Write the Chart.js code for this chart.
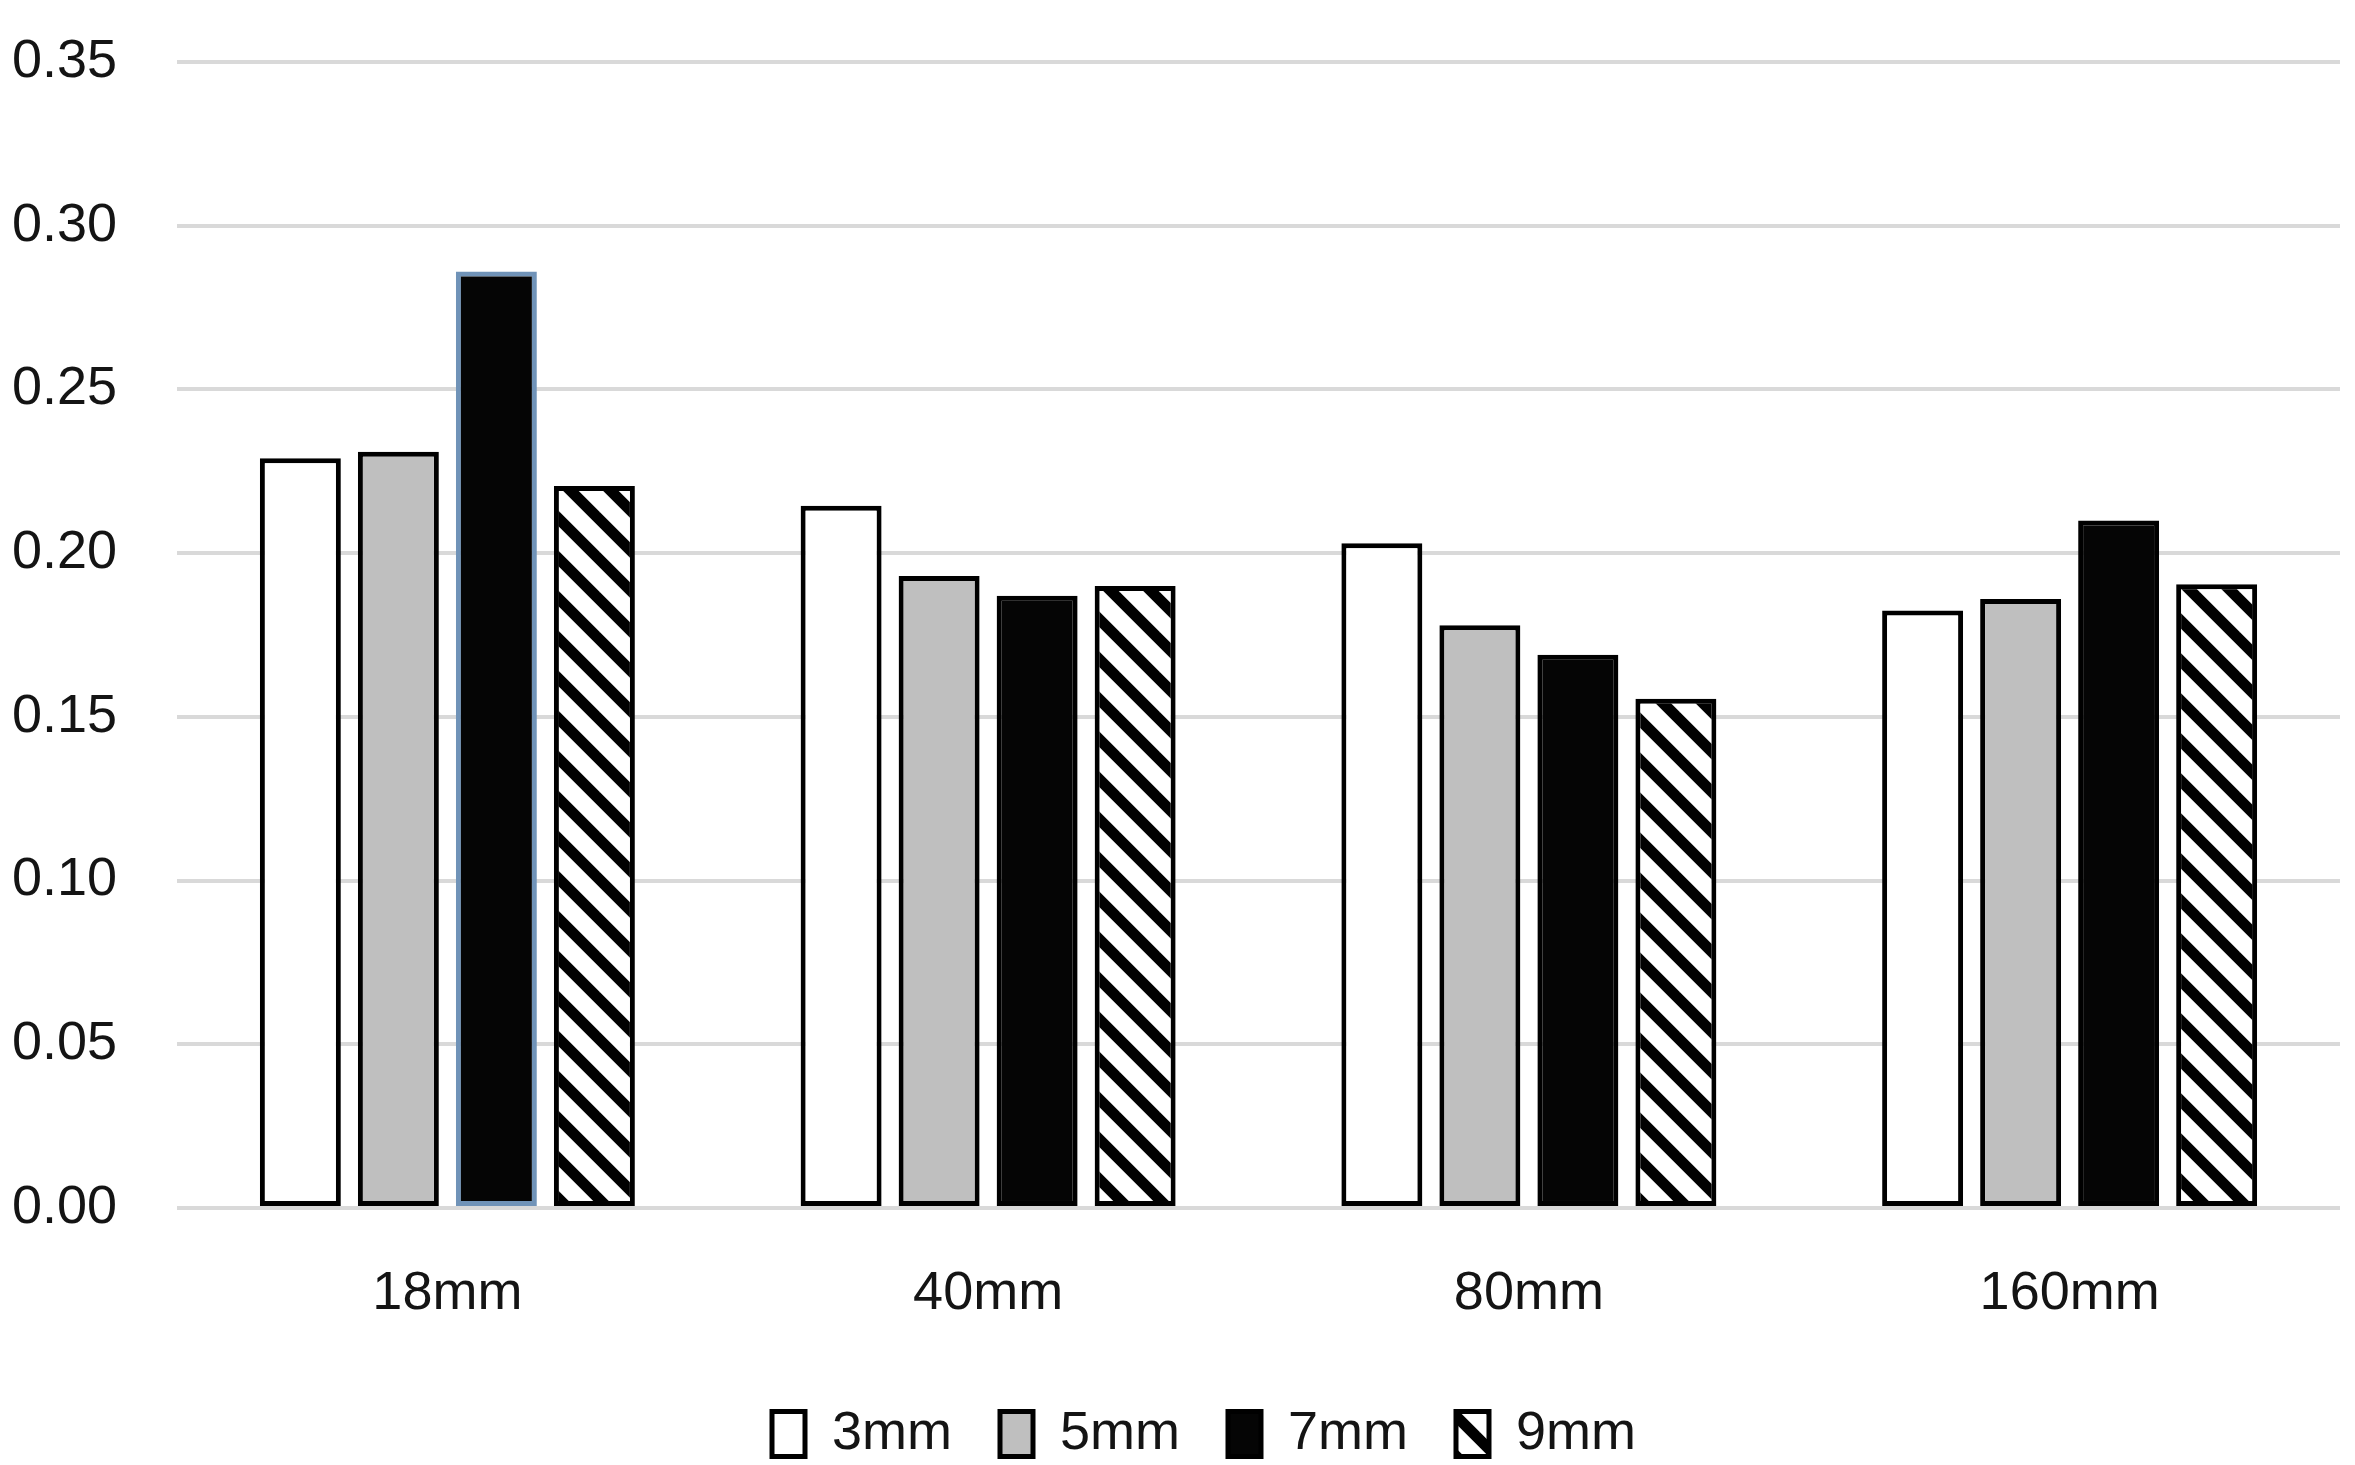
<!DOCTYPE html>
<html>
<head>
<meta charset="utf-8">
<script src="https://cdn.jsdelivr.net/npm/chart.js@4/dist/chart.umd.min.js"></script>
<style>
  html, body { margin: 0; padding: 0; background: #ffffff; }
  #wrap { width: 2355px; height: 1465px; }
</style>
</head>
<body>
<div id="wrap"><canvas id="c" width="2355" height="1465"></canvas></div>
<script>
const categories = ['18mm', '40mm', '80mm', '160mm'];
const seriesNames = ['3mm', '5mm', '7mm', '9mm'];
const values3mm = [0.229, 0.2145, 0.203, 0.1825];
const values5mm = [0.231, 0.193, 0.178, 0.186];
const values7mm = [0.286, 0.187, 0.169, 0.210];
const values9mm = [0.2205, 0.190, 0.1555, 0.1905];
const yMin = 0, yMax = 0.35, yStep = 0.05;

function makeHatch() {
  const P = 40;
  const c = document.createElement('canvas');
  c.width = P; c.height = P;
  const g = c.getContext('2d');
  g.fillStyle = '#ffffff';
  g.fillRect(0, 0, P, P);
  g.strokeStyle = '#000000';
  g.lineWidth = 11;
  for (const k of [-1, 0, 1]) {
    g.beginPath();
    g.moveTo(k * P - 6, -6);
    g.lineTo(k * P + P + 6, P + 6);
    g.stroke();
  }
  return document.getElementById('c').getContext('2d').createPattern(c, 'repeat');
}
const hatch = makeHatch();

const FONT = "'Liberation Sans', Arial, sans-serif";
const TEXT = '#141414';

const legendShift = {
  id: 'legendShift',
  afterLayout(chart) {
    if (chart.legend) { chart.legend.left += 28; chart.legend.right += 28; }
  }
};

const chart = new Chart(document.getElementById('c'), {
  type: 'bar',
  data: {
    labels: categories,
    datasets: [
      { label: seriesNames[0], data: values3mm, backgroundColor: '#ffffff', borderColor: '#000000' },
      { label: seriesNames[1], data: values5mm, backgroundColor: '#bfbfbf', borderColor: '#000000' },
      { label: seriesNames[2], data: values7mm, backgroundColor: '#050505', borderColor: ['#7093b8', '#000000', '#000000', '#000000'] },
      { label: seriesNames[3], data: values9mm, backgroundColor: hatch, borderColor: '#000000' }
    ]
  },
  plugins: [legendShift],
  options: {
    responsive: false,
    animation: false,
    devicePixelRatio: 1,
    layout: { padding: { left: 12, right: 15, top: 62, bottom: 0 } },
    datasets: {
      bar: {
        borderWidth: 5,
        borderSkipped: false,
        barPercentage: 0.826,
        categoryPercentage: 0.725
      }
    },
    scales: {
      x: {
        offset: true,
        grid: { display: false, drawTicks: false },
        border: { display: false },
        ticks: { color: TEXT, font: { family: FONT, size: 54 }, padding: 54 },
        afterFit: (s) => { s.height = 151; }
      },
      y: {
        min: yMin, max: yMax,
        grid: { color: '#d9d9d9', lineWidth: 4, drawTicks: false },
        border: { display: false },
        ticks: {
          stepSize: yStep,
          color: TEXT,
          font: { family: FONT, size: 54 },
          padding: 0,
          crossAlign: 'far',
          callback: (v) => Number(v).toFixed(2)
        },
        afterFit: (s) => { s.width = 165; }
      }
    },
    plugins: {
      tooltip: { enabled: false },
      legend: {
        position: 'bottom',
        maxHeight: 106,
        labels: {
          color: TEXT,
          font: { family: FONT, size: 54 },
          boxWidth: 33,
          boxHeight: 45,
          padding: 48,
          generateLabels: (ch) => {
            const items = Chart.defaults.plugins.legend.labels.generateLabels(ch);
            items.forEach(it => { it.strokeStyle = '#000000'; it.lineWidth = 5; });
            return items;
          }
        }
      }
    }
  }
});
</script>
</body>
</html>
